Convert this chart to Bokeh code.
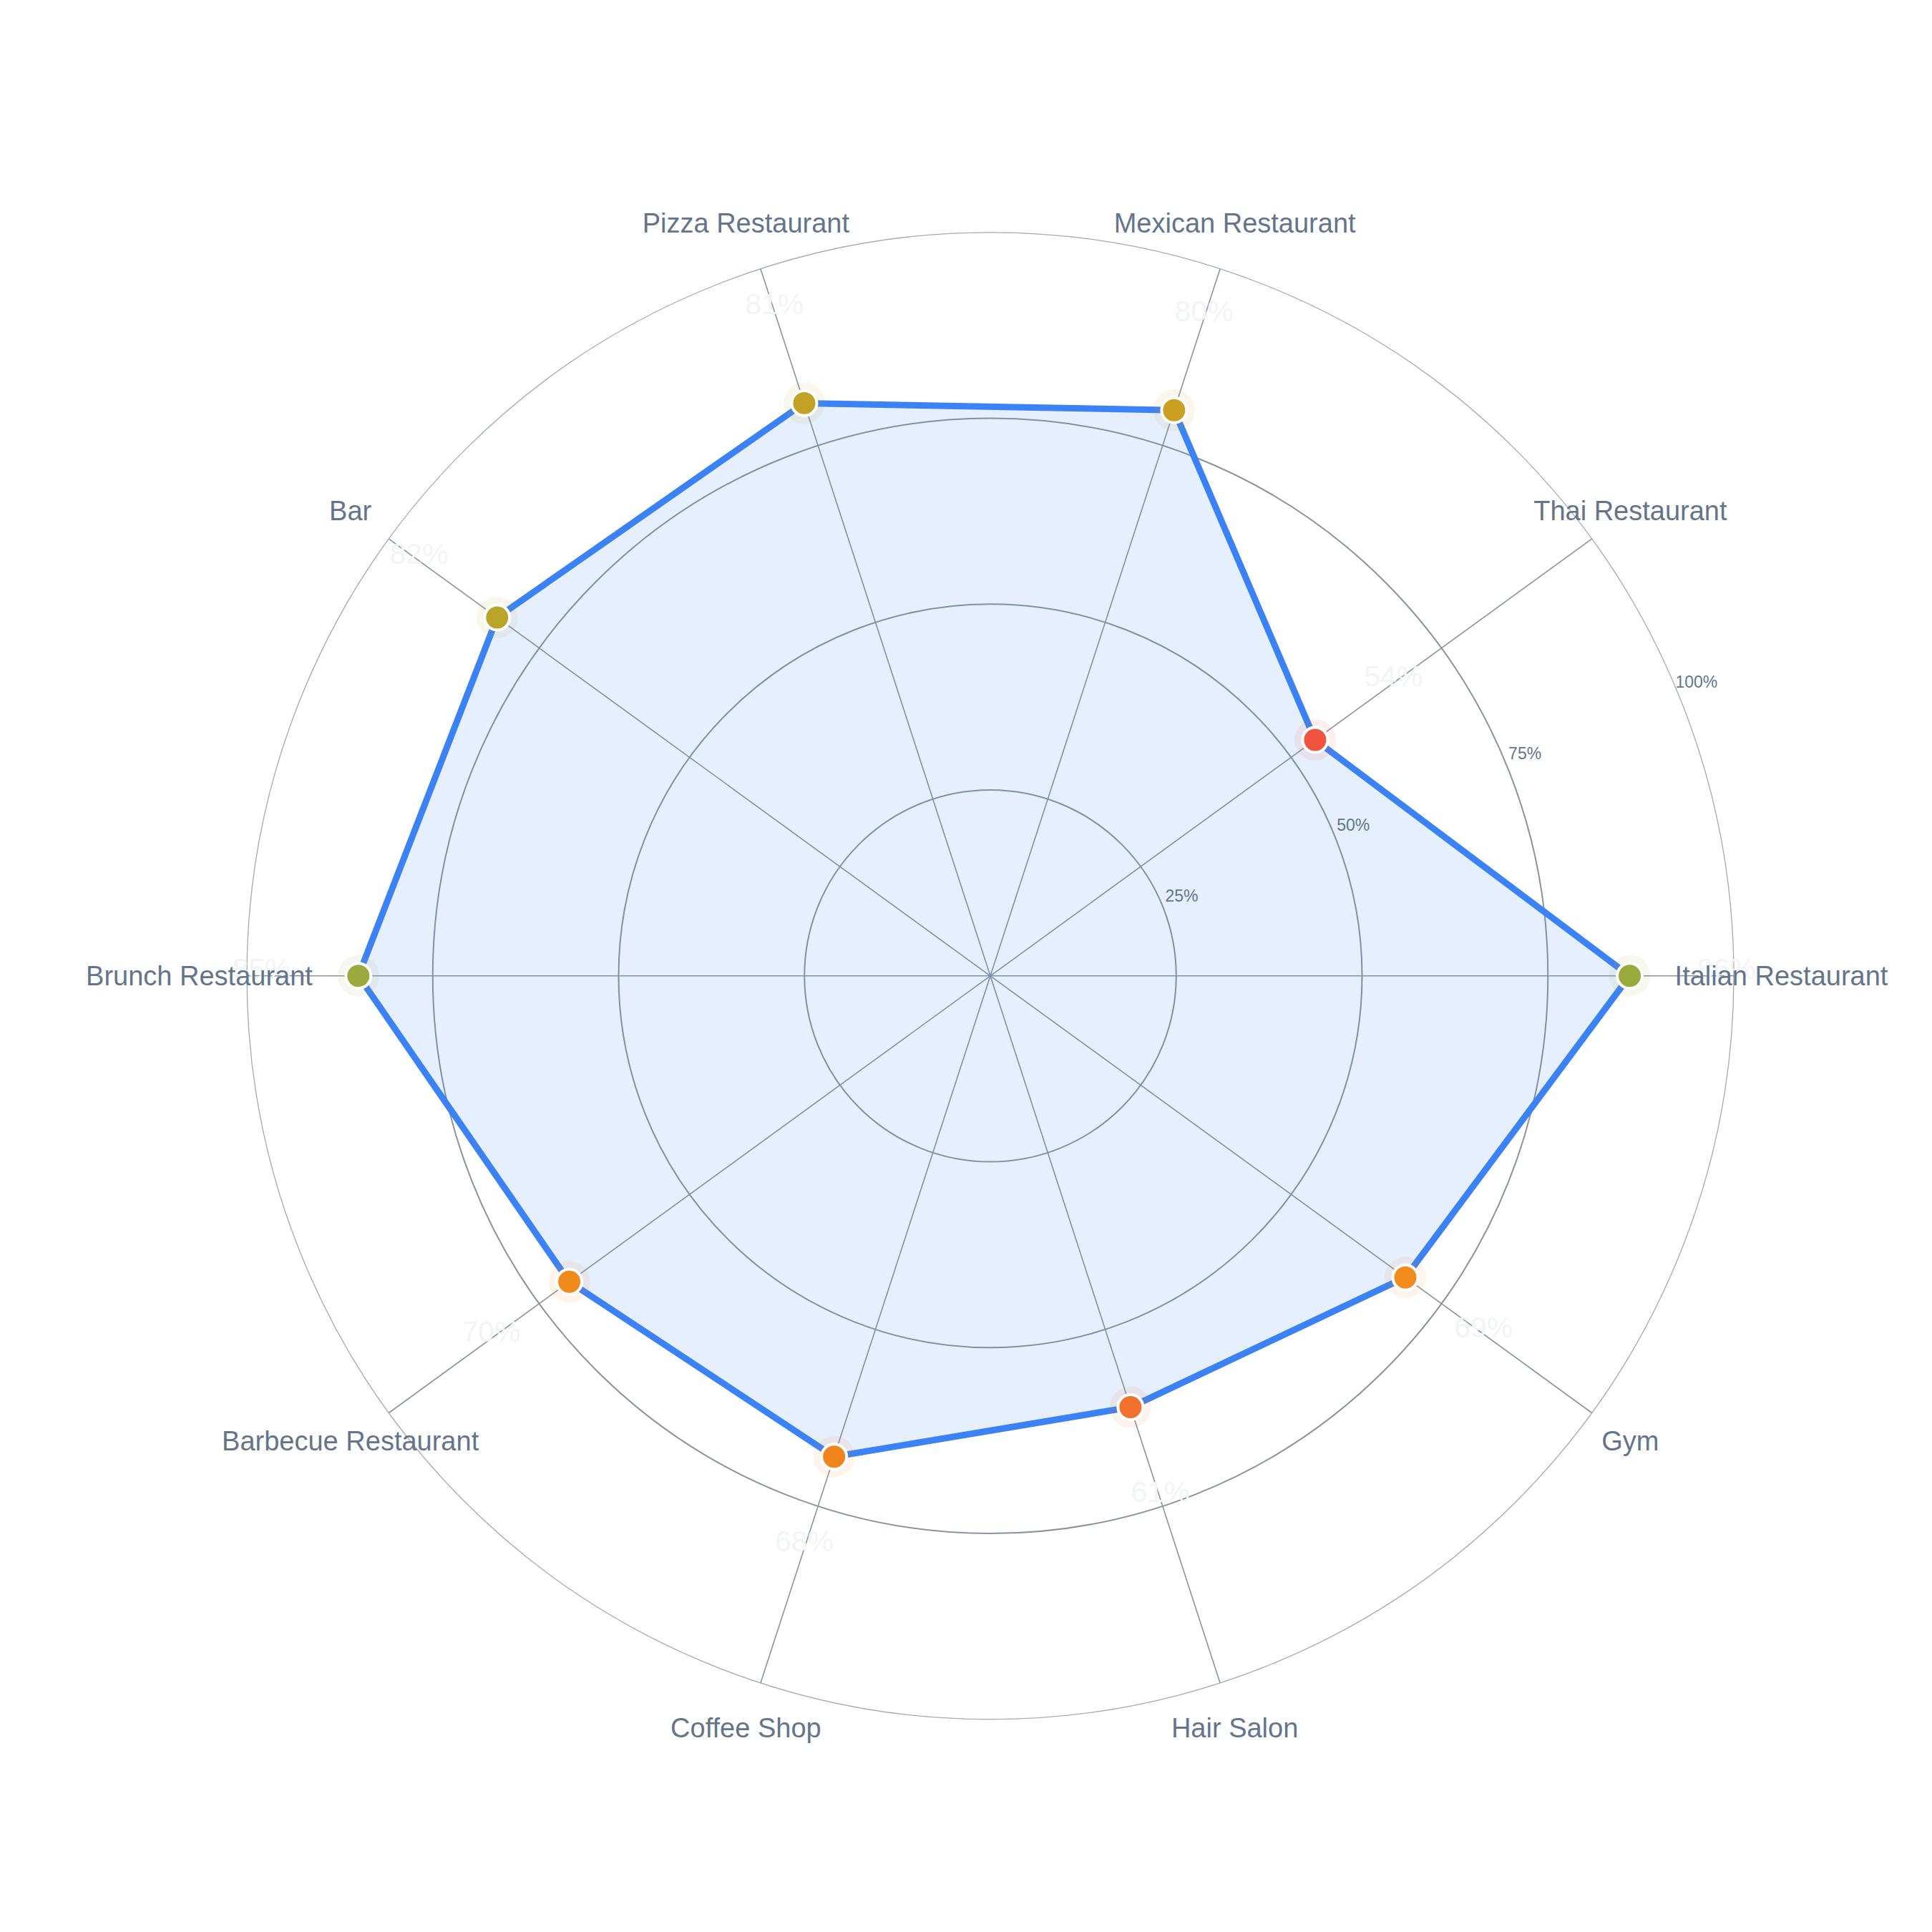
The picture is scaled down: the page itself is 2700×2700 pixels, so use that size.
import numpy as np
from bokeh.plotting import figure
from bokeh.models import ColumnDataSource, Range1d
from bokeh.core.properties import value
from bokeh.embed import file_html
from bokeh.resources import INLINE

# ---- data ----
categories = ["Italian Restaurant", "Thai Restaurant", "Mexican Restaurant", "Pizza Restaurant", "Bar",
              "Brunch Restaurant", "Barbecue Restaurant", "Coffee Shop", "Hair Salon", "Gym"]
scores = [86, 54, 80, 81, 82, 85, 70, 68, 61, 69]
point_colors = ["#98aa3c", "#f0533e", "#cba020", "#c2a225", "#b8a52a",
                "#9aaa3e", "#f08a1a", "#f2841e", "#f0702c", "#f28a1c"]
ring_ticks = [25, 50, 75, 100]
ring_labels = ["25%", "50%", "75%", "100%"]

# ---- geometry (pixel units, centre at origin) ----
W = H = 2684
CX, CY = 1383.5, 1363.3      # centre from top-left of figure
R = 1039.0                   # radius of 100 %
FONT = value("Liberation Sans")

n = len(categories)
ang = np.arange(n) * 2 * np.pi / n
vals = np.array(scores, dtype=float)
rad = vals / 100.0 * R
px = rad * np.cos(ang)
py = rad * np.sin(ang)

p = figure(width=W, height=H, output_backend="svg", toolbar_location=None,
           x_range=Range1d(-CX, W - CX), y_range=Range1d(-(H - CY), CY),
           min_border=0, outline_line_color=None, background_fill_color="white",
           border_fill_color="white")
p.axis.visible = False
p.grid.visible = False

# rings
inner = [t / 100.0 * R for t in ring_ticks[:-1]]
p.circle(x=[0] * len(inner), y=[0] * len(inner), radius=inner, fill_color=None,
         line_color="#8c939d", line_width=2)
p.circle(x=[0], y=[0], radius=[ring_ticks[-1] / 100.0 * R], fill_color=None,
         line_color="#a3aab3", line_width=1.3)

# spokes
p.segment(x0=np.zeros(n), y0=np.zeros(n), x1=R * np.cos(ang), y1=R * np.sin(ang),
          line_color="#8c939d", line_width=1.6)

# area
p.patch(x=list(px), y=list(py), fill_color="#3b82f6", fill_alpha=0.13, line_color=None)
p.line(x=list(px) + [px[0]], y=list(py) + [py[0]], line_color="#3b82f6", line_width=9,
       line_join="round")

src = ColumnDataSource(dict(x=px, y=py, c=point_colors))
p.scatter(x="x", y="y", size=58, fill_color="c", fill_alpha=0.09, line_color=None, source=src)
p.scatter(x="x", y="y", size=35, fill_color="c", line_color="white", line_width=4, source=src)

# value labels (faint)
rl = (vals + 13) / 100.0 * R
p.text(x=rl * np.cos(ang), y=rl * np.sin(ang), text=[f"{int(v)}%" for v in scores],
       text_font=FONT, text_font_size="41px", text_color="#f2f4f8", text_align="center",
       text_baseline="middle", y_offset=-10)

# category labels
rc = 1.064 * R
p.text(x=rc * np.cos(ang), y=rc * np.sin(ang), text=categories, text_font=FONT,
       text_font_size="38px", text_color="#64748b", text_align="center", text_baseline="middle")

# ring tick labels
ta = np.deg2rad(22.6)
tr = np.array(ring_ticks) / 100.0 * R + 30
p.text(x=tr * np.cos(ta), y=tr * np.sin(ta), text=ring_labels, text_font=FONT,
       text_font_size="23px", text_color="#64748b", text_align="center", text_baseline="middle")

open("out.html", "w").write(file_html(p, INLINE))
